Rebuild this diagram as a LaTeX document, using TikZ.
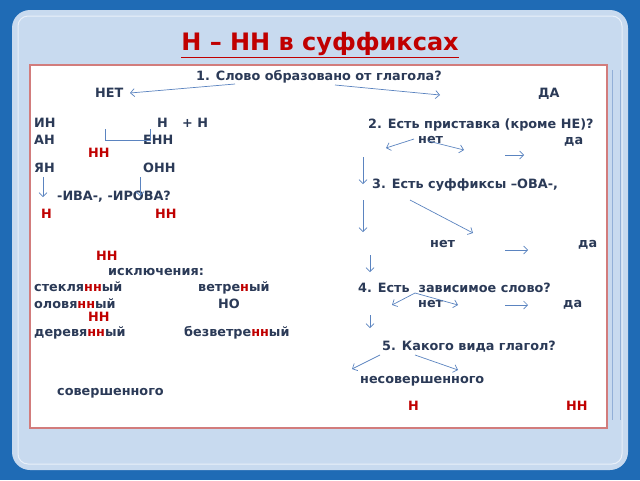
\documentclass[tikz,border=0pt]{standalone}
\usepackage{fontspec}
\setmainfont{DejaVu Sans}
\usetikzlibrary{positioning,arrows.meta}
\usepackage{xcolor}
\definecolor{frameblue}{HTML}{1F6BB5}
\definecolor{framelight}{HTML}{C8DAEF}
\definecolor{boxline}{HTML}{D27C7C}
\definecolor{txtblue}{HTML}{2B3A57}
\definecolor{nnred}{HTML}{C00000}
\definecolor{arrblue}{HTML}{5B84C0}
\newcommand{\suff}[1]{\textcolor{nnred}{#1}}

\begin{document}
\begin{tikzpicture}[x=1pt,y=-1pt,
		txt/.style={anchor=base west,inner sep=0pt,text=txtblue,font=\fontsize{12.8}{15}\selectfont\bfseries},
		rtxt/.style={txt,text=nnred},
		arr/.style={-{Straight Barb[length=4pt,width=8pt]},draw=arrblue,line width=0.7pt}]
		\useasboundingbox (0,0) rectangle (640,480);
		\fill[frameblue] (0,0) rectangle (640,480);
		\fill[framelight,rounded corners=18pt] (12,10) rectangle (628,470);
		\draw[white!60!framelight,line width=1pt,rounded corners=10pt] (18,16) rectangle (622,464);
		\draw[arrblue!50!framelight,line width=0.8pt] (612,70) -- (612,420) (620,70) -- (620,420);
		\filldraw[fill=white,draw=boxline,line width=1.2pt] (30,65) rectangle (607,428);
		\node (title) at (320,45) [text=nnred,font=\fontsize{24}{28}\selectfont\bfseries] {\underline{Н – НН в суффиксах}};

		\node (q1) at (196,80) [txt] {1. Слово образовано от глагола?};
		\node (net0) at (95,97) [txt] {НЕТ};
		\node (da0) at (538,97) [txt] {ДА};
		\node (in) at (34,127) [txt] {ИН};
		\node (an) at (34,144) [txt] {АН};
		\node (yan) at (34,172) [txt] {ЯН};
		\node (n1) at (157,127) [txt] {Н};
		\node (plus) at (182,127) [txt] {+ Н};
		\node (enn) at (143,144) [txt] {ЕНН};
		\node (onn) at (143,172) [txt] {ОНН};
		\node (nnA) at (88,157) [rtxt] {НН};
		\node (iva) at (57,200) [txt] {-ИВА-, -ИРОВА?};
		\node (nB) at (41,218) [rtxt] {Н};
		\node (nnB) at (155,218) [rtxt] {НН};
		\node (nnC) at (96,260) [rtxt] {НН};
		\node (iskl) at (108,275) [txt] {исключения:};
		\node (w1) at (34,291) [txt] {стекля\suff{нн}ый};
		\node (w2) at (198,291) [txt] {ветре\suff{н}ый};
		\node (w3) at (34,308) [txt] {оловя\suff{нн}ый};
		\node (no) at (218,308) [txt] {НО};
		\node (nnD) at (88,321) [rtxt] {НН};
		\node (w4) at (34,336) [txt] {деревя\suff{нн}ый};
		\node (w5) at (184,336) [txt] {безветре\suff{нн}ый};
		\node (sov) at (57,395) [txt] {совершенного};

		\node (q2) at (368,128) [txt] {2. Есть приставка (кроме НЕ)?};
		\node (net2) at (418,143) [txt] {нет};
		\node (da2) at (564,144) [txt] {да};
		\node (q3) at (372,188) [txt] {3. Есть суффиксы –ОВА-,};
		\node (net3) at (430,247) [txt] {нет};
		\node (da3) at (578,247) [txt] {да};
		\node (q4) at (358,292) [txt] {4. Есть\ \ зависимое слово?};
		\node (net4) at (418,307) [txt] {нет};
		\node (da4) at (563,307) [txt] {да};
		\node (q5) at (382,350) [txt] {5. Какого вида глагол?};
		\node (nesov) at (360,383) [txt] {несовершенного};
		\node (nE) at (408,410) [rtxt] {Н};
		\node (nnE) at (566,410) [rtxt] {НН};

		\coordinate (a1s) at (235,84); \coordinate (a1e) at (130,93);
		\coordinate (a2s) at (335,85); \coordinate (a2e) at (440,95);
		\coordinate (a3s) at (414,139); \coordinate (a3e) at (386,148);
		\coordinate (a4s) at (428,141); \coordinate (a4e) at (464,150);
		\coordinate (a5s) at (505,155); \coordinate (a5e) at (524,155);
		\coordinate (a6s) at (363,157); \coordinate (a6e) at (363,184);
		\coordinate (a7s) at (43,177); \coordinate (a7e) at (43,197);
		\coordinate (a8s) at (140,177); \coordinate (a8e) at (140,196);
		\coordinate (a9s) at (363,200); \coordinate (a9e) at (363,232);
		\coordinate (a10s) at (410,200); \coordinate (a10e) at (473,233);
		\coordinate (a11s) at (505,250); \coordinate (a11e) at (528,250);
		\coordinate (a12s) at (370,255); \coordinate (a12e) at (370,272);
		\coordinate (a13s) at (415,293); \coordinate (a13e) at (392,305);
		\coordinate (a14s) at (415,293); \coordinate (a14e) at (458,305);
		\coordinate (a15s) at (505,305); \coordinate (a15e) at (528,305);
		\coordinate (a16s) at (370,315); \coordinate (a16e) at (370,328);
		\coordinate (a17s) at (380,355); \coordinate (a17e) at (352,369);
		\coordinate (a18s) at (415,355); \coordinate (a18e) at (458,370);
		\coordinate (br1) at (105,129); \coordinate (br2) at (150,129);

		\draw[arr] (a1s) to (a1e);
		\draw[arr] (a2s) to (a2e);
		\draw[draw=arrblue,line width=0.7pt] (br1) |- ([yshift=-11pt]br2) -- (br2);
		\draw[arr] (a3s) to (a3e);
		\draw[arr] (a4s) to (a4e);
		\draw[arr] (a5s) to (a5e);
		\draw[arr] (a6s) to (a6e);
		\draw[arr] (a7s) to (a7e);
		\draw[arr] (a8s) to (a8e);
		\draw[arr] (a9s) to (a9e);
		\draw[arr] (a10s) to (a10e);
		\draw[arr] (a11s) to (a11e);
		\draw[arr] (a12s) to (a12e);
		\draw[arr] (a13s) to (a13e);
		\draw[arr] (a14s) to (a14e);
		\draw[arr] (a15s) to (a15e);
		\draw[arr] (a16s) to (a16e);
		\draw[arr] (a17s) to (a17e);
		\draw[arr] (a18s) to (a18e);
	\end{tikzpicture}
\end{document}
